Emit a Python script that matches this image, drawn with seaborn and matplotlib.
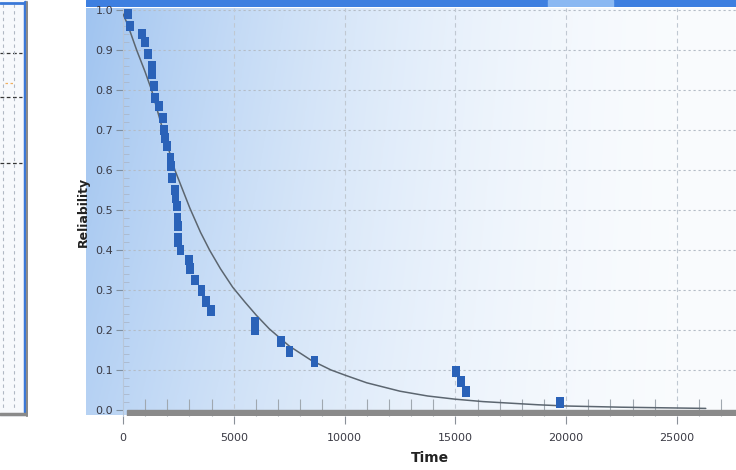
import numpy as np
import pandas as pd
import matplotlib
matplotlib.use("Agg")
import matplotlib.pyplot as plt
import seaborn as sns
from matplotlib.path import Path
from matplotlib.ticker import MultipleLocator

# ---- data ----
fail_time = [240, 315, 870, 990, 1110, 1290, 1320, 1395, 1440, 1620, 1815, 1860,
             1890, 1995, 2145, 2160, 2220, 2340, 2370, 2445, 2460, 2470, 2480,
             2500, 2595, 2970, 3015, 3240, 3540, 3765, 3960, 5970, 5970, 7140,
             7515, 8640, 15015, 15240, 15465, 19710]
fail_rel = [0.99, 0.96, 0.94, 0.92, 0.89, 0.86, 0.84, 0.81, 0.78, 0.76, 0.73, 0.70,
            0.68, 0.66, 0.63, 0.61, 0.58, 0.55, 0.53, 0.51, 0.48, 0.46, 0.43,
            0.42, 0.40, 0.375, 0.354, 0.325, 0.298, 0.271, 0.248, 0.22, 0.20, 0.171,
            0.146, 0.121, 0.096, 0.071, 0.046, 0.019]

curve_time = [0, 200, 615, 1000, 1290, 1800, 2340, 3015, 3500, 3915, 4400, 4950,
              5500, 6015, 6600, 7500, 8500, 9390, 10000, 11000, 12500, 13750,
              15000, 16250, 17500, 18750, 20000, 22500, 25000, 26300]
curve_rel = [0.99, 0.965, 0.90, 0.845, 0.80, 0.70, 0.60, 0.505, 0.444, 0.399, 0.353,
             0.307, 0.27, 0.237, 0.203, 0.16, 0.124, 0.10, 0.0875, 0.068, 0.047,
             0.035, 0.027, 0.021, 0.017, 0.013, 0.010, 0.007, 0.005, 0.004]

x_ticks = [0, 5000, 10000, 15000, 20000, 25000]
y_ticks = [0.0, 0.1, 0.2, 0.3, 0.4, 0.5, 0.6, 0.7, 0.8, 0.9, 1.0]

# decorative cropped neighbour panel (pixel coordinates inside that panel)
left_hlines = [53, 97, 163]
left_vlines = [3, 14]

sns.set_theme(style="white")
plt.rcParams['font.family'] = ['DejaVu Sans']

W, H = 736, 470
fig = plt.figure(figsize=(W / 100, H / 100), dpi=100)

def fx(px):
    return px / W

def fy(py):
    return (H - py) / H

# ---- background gradient panel ----
bg = fig.add_axes([fx(86), fy(415), fx(736 - 86), (415 - 8) / H])
bg.set_axis_off()
nx, ny = 300, 100
u = np.linspace(0, 1, nx)[None, :]
v = np.linspace(0, 1, ny)[:, None]
w = np.clip((1 - u) ** 1.9 * (1 - 0.25 * v), 0, 1)
blue = np.array([160, 196, 240]) / 255
white = np.array([250, 252, 254]) / 255
img = white[None, None, :] * (1 - w[..., None]) + blue[None, None, :] * w[..., None]
bg.imshow(img, aspect="auto", extent=[0, 1, 0, 1], origin="upper")
bg.set_xlim(0, 1)
bg.set_ylim(0, 1)

# top title bar
tb = fig.add_axes([fx(86), fy(7), fx(736 - 86), 7 / H])
tb.set_axis_off()
tb.set_xlim(0, 1)
tb.set_ylim(0, 1)
tb.axhspan(0, 1, color="#3d7fe0")
tb.axvspan(0.71, 0.81, color="#8ab8f2")

# ---- cropped neighbour panel on the left ----
lp = fig.add_axes([0, fy(417), fx(28), 417 / H])
lp.set_xlim(0, 28)
lp.set_ylim(417, 0)
lp.set_facecolor("#f7f9fc")
for s in lp.spines.values():
    s.set_visible(False)
lp.set_xticks([])
lp.set_yticks([])
for yv in left_hlines:
    lp.plot([0, 22], [yv, yv], color="#333333", lw=0.9, ls=(0, (3, 2)))
for xv in left_vlines:
    lp.plot([xv, xv], [4, 410], color="#b0b8c4", lw=0.8, ls=(0, (3, 3)))
lp.plot([5, 14], [83, 83], color="#f0b060", lw=0.9, ls=(0, (2, 2)))
lp.plot([24.5, 24.5], [2, 412], color="#3a78d8", lw=2.5)
lp.plot([0, 25.5], [2.5, 2.5], color="#3a78d8", lw=2)
lp.plot([26.8, 26.8], [2, 416], color="#8a8a8a", lw=1.5)
lp.plot([0, 27], [413.5, 413.5], color="#8a8a8a", lw=2.5)

# ---- main axes ----
ymin, ymax = -0.015, 1.005
ax = fig.add_axes([fx(123), fy(416), fx(736 - 123), (416 - 8) / H])
ax.set_facecolor("none")
xmax = (736 - 123) * 45.13
ax.set_xlim(0, xmax)
ax.set_ylim(ymin, ymax)

# grid
for yv in y_ticks[1:]:
    ax.axhline(yv, color="#b4bcc6", lw=0.8, ls=(0, (2, 2.5)), zorder=1)
for xv in x_ticks[1:]:
    ax.axvline(xv, color="#c0c8d2", lw=0.8, ls=(0, (4, 3)), zorder=1)

# bottom gray bar
ax.axhspan(ymin, 0.0, xmin=0.006, xmax=1.0, color="#8a8a8a", zorder=2)

# fitted curve
curve_df = pd.DataFrame({"Time": curve_time, "Reliability": curve_rel})
sns.lineplot(data=curve_df, x="Time", y="Reliability", ax=ax, color="#5c6670",
             lw=1.1, zorder=3, sort=False)

# failure points
rect = Path([(-0.72, -1), (0.72, -1), (0.72, 1), (-0.72, 1), (-0.72, -1)],
            [Path.MOVETO, Path.LINETO, Path.LINETO, Path.LINETO, Path.CLOSEPOLY])
pts_df = pd.DataFrame({"Time": fail_time, "Reliability": fail_rel})
sns.scatterplot(data=pts_df, x="Time", y="Reliability", ax=ax, marker=rect,
                s=62, color="#2a62b8", edgecolor="none", linewidth=0, zorder=4)

# axes styling
for side in ["top", "right", "bottom"]:
    ax.spines[side].set_visible(False)
ax.spines["left"].set_color("#b8c6d8")
ax.spines["left"].set_linewidth(0.8)

ax.set_xticks(x_ticks)
ax.set_xticklabels([str(t) for t in x_ticks])
ax.set_yticks(y_ticks)
ax.set_yticklabels([f"{t:.1f}" for t in y_ticks])
ax.xaxis.set_minor_locator(MultipleLocator(1000))
ax.yaxis.set_minor_locator(MultipleLocator(0.02))
ax.tick_params(axis="y", which="major", direction="out", length=5, width=0.8,
               color="#8090a0", labelsize=8, labelcolor="#3a3a44", pad=2, left=True)
ax.tick_params(axis="y", which="minor", direction="in", length=4, width=0.6,
               color="#aab8cc", left=True)
ax.tick_params(axis="x", which="major", direction="out", length=6, width=0.8,
               color="#8a9098", labelsize=8, labelcolor="#3a3a44", pad=6, bottom=True)
ax.tick_params(axis="x", which="minor", direction="in", length=12, width=0.8,
               color="#a0a8b0", bottom=True)

ax.set_xlabel("Time", fontsize=10, fontweight="bold", color="#222222", labelpad=6)
ax.set_ylabel("Reliability", fontsize=9, fontweight="bold", color="#222222",
              labelpad=4)

fig.savefig("out.png", dpi=100)
